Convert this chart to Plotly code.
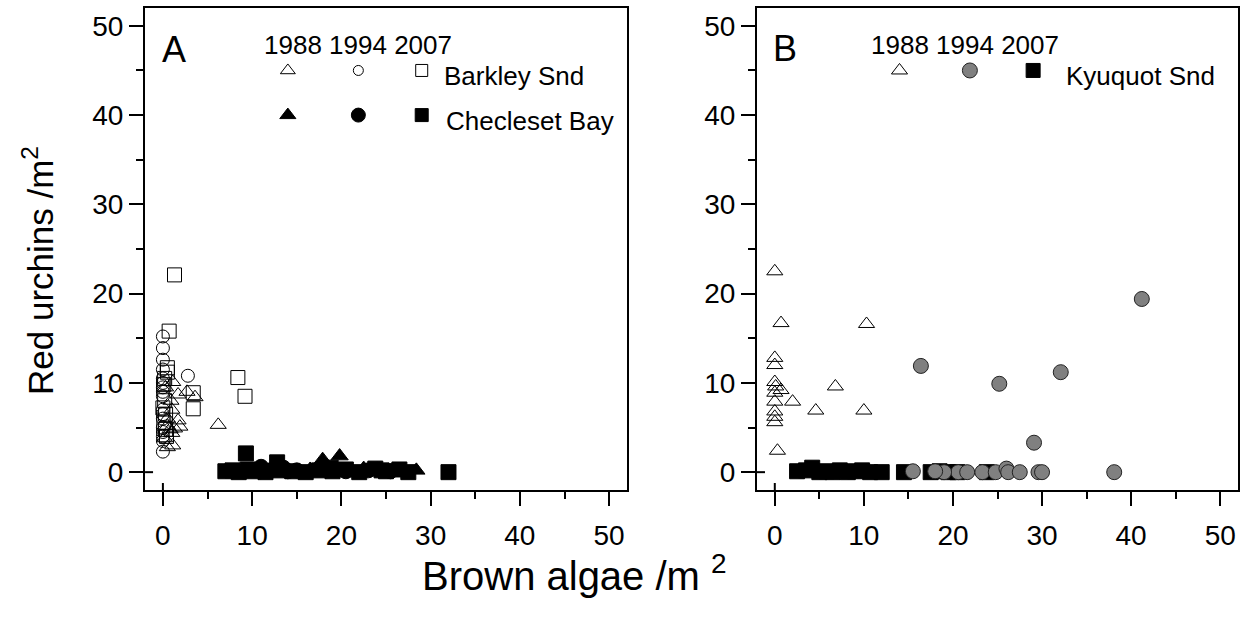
import plotly.graph_objects as go

# ---------------- Data ----------------
# Panel A - Barkley Sound (open markers)
bark88_x = [1.1, 1.7, 2.7, 3.6, 6.2, 1.0, 1.7, 1.9, 1.0, 1.1, 0.5, 0.5, 0.3, 0.8, 0.2, 1.3, 0.5, 0.9]
bark88_y = [10.1, 8.7, 9.0, 8.4, 5.3, 7.0, 5.8, 5.1, 4.4, 3.0, 2.8, 6.0, 9.5, 4.8, 3.8, 4.9, 5.2, 8.0]
bark94_x = [0.0, 0.0, 0.0, 0.0, 0.0, 0.0, 0.0, 0.0, 0.0, 0.0, 0.0, 0.0, 0.0, 0.0, 0.0, 0.0, 0.0, 2.8]
bark94_y = [15.2, 13.9, 12.6, 11.5, 10.5, 10.0, 9.5, 9.0, 8.5, 7.0, 6.5, 6.0, 5.0, 4.5, 4.0, 3.5, 2.3, 10.8]
bark07_x = [1.3, 0.7, 0.5, 8.4, 9.2, 3.4, 3.4, 0.2, 0.1, 0.2, 0.3, 0.1, 0.3, 0.4, 0.5, 0.0]
bark07_y = [22.1, 15.8, 11.7, 10.6, 8.5, 8.9, 7.1, 10.5, 9.8, 8.0, 6.5, 5.5, 4.8, 4.0, 11.2, 7.2]

# Panel A - Checleset Bay (filled markers)
chec88_x = [17.9, 19.8, 28.4, 16.5, 18.5, 21.0, 24.0, 26.5, 22.5, 15.0]
chec88_y = [1.4, 1.8, 0.2, 0.3, 0.5, 0.2, 0.3, 0.2, 0.4, 0.1]
chec94_x = [10.5, 12.0, 13.5, 15.0, 9.0, 20.5, 23.0, 25.5, 11.0, 14.0]
chec94_y = [0.3, 0.2, 0.5, 0.2, 0.1, 0.1, 0.2, 0.1, 0.6, 0.1]
chec07_x = [9.3, 12.8, 32.0, 7.0, 7.8, 8.5, 9.5, 10.2, 11.5, 13.2, 14.5, 16.0, 17.5, 19.0,
            20.5, 22.0, 23.8, 25.0, 26.5, 27.5, 18.8, 24.5]
chec07_y = [2.1, 1.1, 0.0, 0.1, 0.2, 0.0, 0.3, 0.1, 0.0, 0.2, 0.1, 0.0, 0.2, 0.1,
            0.3, 0.0, 0.4, 0.1, 0.3, 0.0, 0.5, 0.2]

# Panel B - Kyuquot Sound
kyu88_x = [0.0, 0.7, 10.3, 0.0, 0.0, 0.0, 0.1, 0.7, 0.0, 6.8, 2.0, 0.0, 0.0, 0.0, 0.0, 4.6, 10.0, 0.3]
kyu88_y = [22.5, 16.7, 16.6, 12.8, 12.0, 10.1, 9.6, 9.2, 8.9, 9.6, 7.9, 7.9, 6.8, 6.2, 5.6, 6.9, 6.9, 2.4]
kyu94_x = [41.2, 16.4, 25.2, 32.1, 29.1, 15.5, 20.6, 21.6, 23.3, 24.8, 26.0, 26.2, 27.5, 29.6, 30.0, 38.1, 19.0, 18.0]
kyu94_y = [19.4, 11.9, 9.9, 11.2, 3.3, 0.1, 0.0, 0.0, 0.0, 0.0, 0.4, 0.0, 0.0, 0.0, 0.0, 0.0, 0.0, 0.1]
kyu07_x = [2.5, 3.5, 4.2, 5.0, 5.8, 6.5, 7.3, 8.2, 9.0, 9.8, 10.7, 12.0, 14.5, 17.5, 18.5, 19.5, 20.5, 23.8]
kyu07_y = [0.1, 0.2, 0.5, 0.0, 0.1, 0.0, 0.2, 0.0, 0.1, 0.2, 0.0, 0.0, 0.0, 0.0, 0.1, 0.0, 0.0, 0.0]

# In-plot legend key (drawn as data points in the original figure)
years = ["1988", "1994", "2007"]
key_x = [14.0, 21.9, 29.0]
key_y_top = 45.0
key_y_bottom = 40.0

tick_vals = [0, 10, 20, 30, 40, 50]

FONT = "Liberation Sans, Arial, sans-serif"
BLACK = "#000000"
GREY = "#808080"

fig = go.Figure()

def add(x, y, symbol, size, color, xa, ya, line_color=BLACK, line_w=1):
    fig.add_trace(go.Scatter(
        x=x, y=y, mode="markers", xaxis=xa, yaxis=ya, showlegend=False,
        marker=dict(symbol=symbol, size=size, color=color,
                    line=dict(color=line_color, width=line_w)),
        hoverinfo="x+y"))

# Panel A
add(chec07_x, chec07_y, "square", 15, BLACK, "x", "y")
add(chec94_x, chec94_y, "circle", 15, BLACK, "x", "y")
add(chec88_x, chec88_y, "triangle-up", 15, BLACK, "x", "y")
add(bark94_x, bark94_y, "circle-open", 13, BLACK, "x", "y")
add(bark07_x, bark07_y, "square-open", 14, BLACK, "x", "y")
add(bark88_x, bark88_y, "triangle-up-open", 14, BLACK, "x", "y")
# Panel A key
add([key_x[0]], [key_y_top], "triangle-up-open", 13, BLACK, "x", "y")
add([key_x[1]], [key_y_top], "circle-open", 10, BLACK, "x", "y")
add([key_x[2]], [key_y_top], "square-open", 12, BLACK, "x", "y")
add([key_x[0]], [key_y_bottom], "triangle-up", 14, BLACK, "x", "y")
add([key_x[1]], [key_y_bottom], "circle", 14, BLACK, "x", "y")
add([key_x[2]], [key_y_bottom], "square", 13, BLACK, "x", "y")

# Panel B
add(kyu07_x, kyu07_y, "square", 15, BLACK, "x2", "y2")
add(kyu94_x, kyu94_y, "circle", 15, GREY, "x2", "y2", line_color="#222222", line_w=1)
add(kyu88_x, kyu88_y, "triangle-up-open", 14, BLACK, "x2", "y2")
# Panel B key
add([key_x[0]], [key_y_top], "triangle-up-open", 14, BLACK, "x2", "y2")
add([key_x[1]], [key_y_top], "circle", 15, GREY, "x2", "y2", line_color="#222222")
add([key_x[2]], [key_y_top], "square", 14, BLACK, "x2", "y2")

axis_common = dict(
    range=[-2, 52], tickvals=tick_vals, ticks="outside", ticklen=14, tickwidth=2,
    tickcolor=BLACK, showline=True, linecolor=BLACK, linewidth=2, mirror=True,
    showgrid=False, zeroline=False,
    tickfont=dict(family=FONT, size=28, color=BLACK),
    minor=dict(ticks="outside", ticklen=7, tickwidth=2, tickcolor=BLACK, dtick=5, tick0=0, showgrid=False),
)

fig.update_layout(
    width=1244, height=618,
    margin=dict(l=0, r=0, t=0, b=0),
    paper_bgcolor="white", plot_bgcolor="white",
    font=dict(family=FONT, color=BLACK),
    xaxis=dict(domain=[0.1166, 0.5040], anchor="y", ticklabelstandoff=5, **axis_common),
    yaxis=dict(domain=[0.2071, 0.9871], anchor="x", **axis_common),
    xaxis2=dict(domain=[0.6085, 0.9952], anchor="y2", ticklabelstandoff=5, **axis_common),
    yaxis2=dict(domain=[0.2071, 0.9871], anchor="x2", **axis_common),
)

# zero ticks crossing into the plot area (as in the original axes)
shapes = []
for xr, yr in [("x", "y"), ("x2", "y2")]:
    shapes.append(dict(type="line", xref=xr, yref=yr + " domain", ysizemode="pixel", yanchor=0,
                       x0=0, x1=0, y0=0, y1=7, line=dict(color=BLACK, width=2)))
    shapes.append(dict(type="line", xref=xr + " domain", yref=yr, xsizemode="pixel", xanchor=0,
                       x0=0, x1=8, y0=0, y1=0, line=dict(color=BLACK, width=2)))
fig.update_layout(shapes=shapes)

ann = []
# panel letters
ann.append(dict(text="A", x=-0.3, y=47.3, xref="x", yref="y", xanchor="left", yanchor="middle",
                showarrow=False, font=dict(family=FONT, size=36, color=BLACK)))
ann.append(dict(text="B", x=-0.4, y=47.5, xref="x2", yref="y2", xanchor="left", yanchor="middle",
                showarrow=False, font=dict(family=FONT, size=36, color=BLACK)))
# year headers
for xr, yr, cx in [("x", "y", 21.9), ("x2", "y2", 21.4)]:
    ann.append(dict(text=" ".join(years), x=cx, y=47.8, xref=xr, yref=yr, xanchor="center",
                    yanchor="middle", showarrow=False, font=dict(family=FONT, size=26, color=BLACK)))
# site labels
ann.append(dict(text="Barkley Snd", x=31.3, y=44.4, xref="x", yref="y", xanchor="left", yanchor="middle",
                showarrow=False, font=dict(family=FONT, size=26, color=BLACK)))
ann.append(dict(text="Checleset Bay", x=31.5, y=39.3, xref="x", yref="y", xanchor="left", yanchor="middle",
                showarrow=False, font=dict(family=FONT, size=26, color=BLACK)))
ann.append(dict(text="Kyuquot Snd", x=32.5, y=44.4, xref="x2", yref="y2", xanchor="left", yanchor="middle",
                showarrow=False, font=dict(family=FONT, size=26, color=BLACK)))
# axis titles
ann.append(dict(text="Brown algae /m <sup>2</sup>", x=0.462, y=1 - 573 / 618, xref="paper", yref="paper",
                xanchor="center", yanchor="middle", showarrow=False,
                font=dict(family=FONT, size=40, color=BLACK)))
ann.append(dict(text="Red urchins /m<sup>2</sup>", x=38 / 1244, y=1 - 271 / 618, xref="paper", yref="paper",
                xanchor="center", yanchor="middle", showarrow=False, textangle=-90,
                font=dict(family=FONT, size=35, color=BLACK)))
fig.update_layout(annotations=ann)

fig.write_html("out.html")
